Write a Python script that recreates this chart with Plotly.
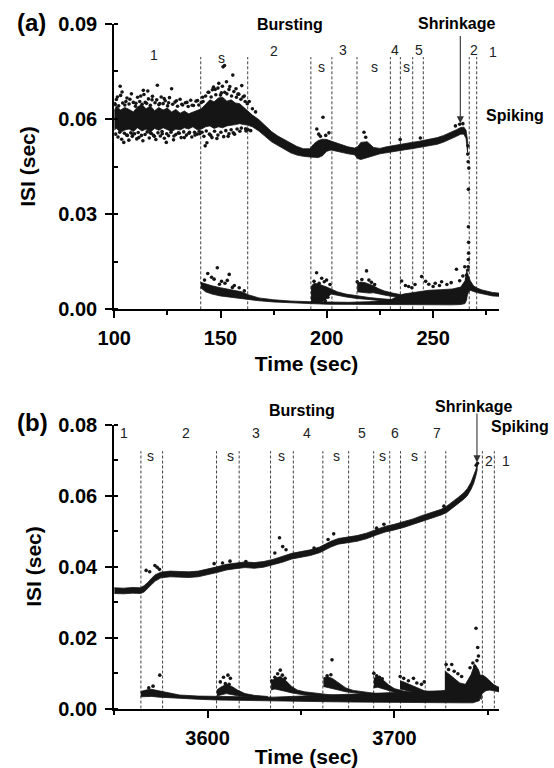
import plotly.graph_objects as go

# ---------------- panel (a): 100 - 281 s ----------------
# long (inter-burst) ISI band: time, lower edge, upper edge
a_up_t = [100, 101, 103, 105, 107, 109, 111, 113, 115, 117, 119, 121, 123, 125, 127, 129, 131, 133, 135, 137, 139,
          141, 143, 145, 147, 149, 151, 153, 155, 157, 159, 161, 163,
          165, 168, 171, 174, 177, 180, 183, 186, 189, 192,
          194, 196, 198, 200, 202, 204,
          207, 210, 213,
          214.5, 216, 219, 222, 225, 228, 231, 234, 237, 240, 243, 246, 249, 252, 255, 258, 261, 263, 264.5, 265.5, 266.2]
a_up_hi = [0.0625, 0.0640, 0.0628, 0.0636, 0.0630, 0.0622, 0.0638, 0.0645, 0.0632, 0.0641, 0.0626, 0.0636, 0.0628, 0.0634, 0.0622, 0.0630, 0.0618, 0.0625, 0.0616, 0.0621, 0.0627,
           0.0632, 0.0646, 0.0660, 0.0654, 0.0666, 0.0668, 0.0656, 0.0660, 0.0650, 0.0648, 0.0636, 0.0624,
           0.0612, 0.0598, 0.0578, 0.0560, 0.0546, 0.0535, 0.0523, 0.0513, 0.0506, 0.0506,
           0.0522, 0.0532, 0.0536, 0.0535, 0.0530, 0.0525,
           0.0519, 0.0512, 0.0508,
           0.0512, 0.0526, 0.0528, 0.0510, 0.0507, 0.0512, 0.0516, 0.0520, 0.0523, 0.0526, 0.0529, 0.0533, 0.0536, 0.0541, 0.0548, 0.0556, 0.0566, 0.0573, 0.0574, 0.0564, 0.0532]
a_up_lo = [0.0565, 0.0570, 0.0558, 0.0565, 0.0568, 0.0560, 0.0572, 0.0562, 0.0568, 0.0558, 0.0570, 0.0564, 0.0572, 0.0566, 0.0560, 0.0568, 0.0565, 0.0572, 0.0568, 0.0575, 0.0566,
           0.0568, 0.0575, 0.0578, 0.0570, 0.0575, 0.0572, 0.0578, 0.0580, 0.0582, 0.0585, 0.0582, 0.0580,
           0.0575, 0.0562, 0.0545, 0.0528, 0.0515, 0.0505, 0.0493, 0.0486, 0.0482, 0.0480,
           0.0478, 0.0478, 0.0484, 0.0498, 0.0502, 0.0497,
           0.0494, 0.0490, 0.0487,
           0.0475, 0.0472, 0.0478, 0.0484, 0.0490, 0.0494, 0.0497, 0.0500, 0.0503, 0.0506, 0.0509, 0.0512, 0.0516, 0.0520, 0.0527, 0.0535, 0.0545, 0.0552, 0.0552, 0.0538, 0.0495]

# short (intra-burst) ISI floor
a_low_t = [140.7, 143, 146, 150, 155, 160, 163, 168, 175, 183, 192, 200, 210, 220, 230, 236, 242, 248, 254, 259, 263, 265, 265.8]
a_low_lo = [0.0068, 0.0055, 0.0048, 0.0042, 0.0036, 0.0033, 0.0031, 0.0027, 0.0023, 0.0020, 0.0018, 0.0016, 0.0015, 0.0015, 0.0014, 0.0014, 0.0014, 0.0014, 0.0014, 0.0014, 0.0015, 0.0018, 0.0030]
a_low_hi = [0.0085, 0.0080, 0.0074, 0.0068, 0.0062, 0.0055, 0.0046, 0.0036, 0.0030, 0.0026, 0.0024, 0.0023, 0.0022, 0.0024, 0.0030, 0.0048, 0.0055, 0.0060, 0.0062, 0.0064, 0.0070, 0.0090, 0.0115]

# burst after the second "s" segment
a_b2_t = [192.6, 194, 196, 198, 200, 202, 205, 209, 214, 220, 226, 232]
a_b2_lo = [0.0020, 0.0020, 0.0021, 0.0024, 0.0035, 0.0048, 0.0044, 0.0039, 0.0034, 0.0030, 0.0027, 0.0024]
a_b2_hi = [0.0072, 0.0082, 0.0080, 0.0076, 0.0070, 0.0064, 0.0055, 0.0048, 0.0042, 0.0037, 0.0033, 0.0030]

# burst after the third "s" segment
a_b3_t = [214.3, 216, 218, 220, 222, 224, 227, 231, 236, 241, 246]
a_b3_lo = [0.0055, 0.0053, 0.0052, 0.0051, 0.0052, 0.0050, 0.0045, 0.0040, 0.0035, 0.0031, 0.0028]
a_b3_hi = [0.0082, 0.0086, 0.0084, 0.0080, 0.0074, 0.0066, 0.0058, 0.0051, 0.0044, 0.0038, 0.0034]

# tonic spiking after shrinkage
a_tail_t = [265.5, 266.5, 267.5, 269, 271, 273, 275.5, 278, 281]
a_tail_lo = [0.0030, 0.0052, 0.0060, 0.0056, 0.0052, 0.0049, 0.0045, 0.0042, 0.0041]
a_tail_hi = [0.0125, 0.0110, 0.0090, 0.0074, 0.0066, 0.0061, 0.0056, 0.0053, 0.0051]

# ISIs scattered just above / below the noisy band at the start
a_cloud_hi_t = [100.2, 101.0, 102.1, 103.0, 104.0, 105.0, 106.0, 107.0, 108.1, 109.0, 110.0, 111.0, 112.0, 113.1,
                114.0, 115.2, 116.1, 117.0, 118.0, 119.2, 120.0, 121.0, 122.1, 123.0, 124.0, 125.1, 126.0, 127.5,
                128.6, 129.8, 131.0, 132.2, 133.5, 134.8, 136.0, 137.3, 138.5, 139.8, 141.0,
                141.8, 143.0, 144.2, 145.6, 146.2, 147.8, 148.8, 150.0, 150.9, 152.0, 153.0, 154.0, 155.2, 156.3,
                157.5, 158.6, 159.6, 160.6, 161.6, 162.6]
a_cloud_hi_v = [0.0648, 0.0661, 0.0641, 0.0674, 0.0650, 0.0644, 0.0666, 0.0647, 0.0679, 0.0652, 0.0640, 0.0668, 0.0655, 0.0646,
                0.0677, 0.0649, 0.0663, 0.0643, 0.0671, 0.0651, 0.0660, 0.0645, 0.0669, 0.0648, 0.0657, 0.0641, 0.0667, 0.0646,
                0.0653, 0.0640, 0.0662, 0.0644, 0.0651, 0.0639, 0.0659, 0.0642, 0.0656, 0.0644, 0.0652,
                0.0655, 0.0672, 0.0684, 0.0669, 0.0692, 0.0676, 0.0697, 0.0675, 0.0703, 0.0684, 0.0679, 0.0693, 0.0672, 0.0686,
                0.0668, 0.0678, 0.0662, 0.0669, 0.0655, 0.0648]
a_cloud_lo_t = [100.7, 101.8, 102.6, 103.5, 104.8, 105.8, 106.9, 107.8, 108.5, 109.6, 110.6, 111.3, 112.8, 113.5,
                114.5, 115.5, 116.5, 117.5, 118.5, 119.6, 120.6, 121.7, 122.5, 123.6, 124.7, 125.6, 126.7, 127.9,
                129.0, 130.2, 131.5, 132.7, 134.0, 135.2, 136.5, 137.8, 139.0, 140.0,
                141.3, 142.2, 143.3, 144.8, 146.0, 147.2, 148.8, 150.2, 151.5, 152.5, 154.0, 155.0, 156.0, 157.8,
                159.8, 161.8, 163.0, 164.2]
a_cloud_lo_v = [0.0552, 0.0543, 0.0558, 0.0536, 0.0555, 0.0549, 0.0533, 0.0556, 0.0545, 0.0553, 0.0537, 0.0557, 0.0548, 0.0531,
                0.0551, 0.0559, 0.0540, 0.0554, 0.0548, 0.0535, 0.0556, 0.0546, 0.0560, 0.0539, 0.0553, 0.0547, 0.0558, 0.0534,
                0.0551, 0.0556, 0.0541, 0.0559, 0.0549, 0.0555, 0.0543, 0.0558, 0.0552, 0.0561,
                0.0558, 0.0545, 0.0562, 0.0552, 0.0541, 0.0561, 0.0549, 0.0558, 0.0544, 0.0563, 0.0553, 0.0566, 0.0556, 0.0568,
                0.0571, 0.0569, 0.0566, 0.0563]

# isolated ISIs
a_dot_t = [100.5, 101.5, 102.8, 103.7, 104.5, 105.5, 106.2, 107.4, 108.9, 110.2, 111.6, 112.5, 113.7, 114.6, 115.8,
           116.9, 117.8, 118.9, 120.3, 121.4, 122.6, 123.5, 124.5, 125.6, 127.0, 128.1, 129.3, 130.6, 131.8, 133.0,
           134.2, 135.4, 136.7, 138.0, 139.2, 140.3, 141.6, 142.8, 143.6, 144.5, 145.4, 146.7, 147.5, 148.3, 149.2,
           150.4, 151.2, 151.9, 152.8, 153.6, 154.4, 155.8, 156.6, 157.3, 158.2, 159.1, 160.0, 161.2, 162.0, 163.5,
           165.0, 166.5,
           195.3, 196.2, 197.0, 198.2, 199.5, 201.0, 217.5, 218.3, 234.5, 244.0, 260.5, 262.5, 264.0,
           266.3, 266.5, 266.6, 266.6, 266.7, 266.7, 266.6, 266.5, 266.4, 266.8, 266.4,
           144.0, 148.5, 154.1, 145.8, 147.0, 152.1, 150.5, 142.5, 156.5, 158.8, 161.2, 149.5, 153.2, 155.6,
           195.2, 197.6, 199.9, 194.0, 196.4, 198.8, 201.5, 193.5, 195.8, 197.5, 199.3, 200.5,
           218.7, 214.3, 216.5, 219.8, 221.0, 222.5, 215.5,
           235.2, 244.6, 246.5, 248.0, 251.0, 254.0, 256.5, 258.5, 261.0, 262.5, 264.9, 264.0, 238.5, 241.5, 250.0,
           253.0, 240.0, 237.0, 265.7, 265.9, 266.2]
a_dot_v = [0.0645, 0.0669, 0.0703, 0.0685, 0.0526, 0.0655, 0.0548, 0.0662, 0.0552, 0.0649, 0.0541, 0.0672, 0.0690, 0.0652, 0.0688,
           0.0556, 0.0660, 0.0545, 0.0706, 0.0648, 0.0553, 0.0664, 0.0526, 0.0651, 0.0695, 0.0546, 0.0657, 0.0555, 0.0646, 0.0541,
           0.0652, 0.0558, 0.0643, 0.0549, 0.0658, 0.0553, 0.0668, 0.0515, 0.0525, 0.0684, 0.0548, 0.0700, 0.0693, 0.0538, 0.0712,
           0.0682, 0.0764, 0.0768, 0.0717, 0.0545, 0.0702, 0.0738, 0.0552, 0.0695, 0.0678, 0.0561, 0.0705, 0.0672, 0.0562, 0.0655,
           0.0632, 0.0622,
           0.0568, 0.0552, 0.0545, 0.0605, 0.0548, 0.0556, 0.0558, 0.0542, 0.0535, 0.0540, 0.0578, 0.0583, 0.0585,
           0.0489, 0.0465, 0.0378, 0.0260, 0.0211, 0.0177, 0.0157, 0.0134, 0.0124, 0.0445, 0.0515,
           0.0113, 0.0131, 0.0110, 0.0101, 0.0095, 0.0082, 0.0088, 0.0092, 0.0075, 0.0068, 0.0058, 0.0079, 0.0091, 0.0069,
           0.0115, 0.0098, 0.0092, 0.0088, 0.0082, 0.0087, 0.0078, 0.0035, 0.0028, 0.0032, 0.0027, 0.0038,
           0.0121, 0.0087, 0.0094, 0.0092, 0.0085, 0.0078, 0.0079,
           0.0089, 0.0103, 0.0088, 0.0079, 0.0082, 0.0087, 0.0078, 0.0084, 0.0126, 0.0090, 0.0134, 0.0105, 0.0072, 0.0078, 0.0072,
           0.0075, 0.0068, 0.0075, 0.0108, 0.0098, 0.0090]

# segment boundaries and labels
a_marks = [140.7, 162.8, 192.5, 202.4, 214.2, 229.9, 234.6, 240.4, 245.4, 267.0, 270.5]
a_seg_text = ["1", "s", "2", "s", "3", "s", "4", "s", "5", "2", "1"]
a_seg_t = [118.7, 150.7, 175.3, 197.5, 207.5, 222.3, 232.0, 237.5, 243.3, 269.2, 278.4]
a_seg_v = [0.0801, 0.0791, 0.0815, 0.0764, 0.0817, 0.0764, 0.0817, 0.0764, 0.0817, 0.0817, 0.0812]

# ---------------- panel (b): 3550 - 3756 s ----------------
b_up_t = [3550, 3555, 3560, 3564, 3566, 3568, 3570, 3572, 3575, 3580, 3585, 3590, 3595, 3600, 3605, 3610, 3615, 3620,
          3625, 3630, 3635, 3640, 3645, 3650, 3655, 3660, 3663, 3666, 3670, 3675, 3680, 3685, 3690, 3695, 3700, 3705,
          3710, 3715, 3720, 3725, 3728, 3731, 3734, 3737, 3739, 3741, 3742.5, 3743.5, 3744.3]
b_up_hi = [0.0340, 0.0339, 0.0341, 0.0340, 0.0346, 0.0355, 0.0367, 0.0377, 0.0384, 0.0387, 0.0386, 0.0385, 0.0387, 0.0392, 0.0399, 0.0406, 0.0410, 0.0413,
           0.0411, 0.0414, 0.0420, 0.0428, 0.0437, 0.0442, 0.0447, 0.0455, 0.0463, 0.0471, 0.0479, 0.0482, 0.0487, 0.0494, 0.0504, 0.0513, 0.0519, 0.0526,
           0.0534, 0.0544, 0.0552, 0.0561, 0.0570, 0.0581, 0.0594, 0.0607, 0.0619, 0.0637, 0.0655, 0.0671, 0.0685]
b_up_lo = [0.0324, 0.0323, 0.0325, 0.0324, 0.0328, 0.0337, 0.0349, 0.0359, 0.0368, 0.0371, 0.0370, 0.0369, 0.0371, 0.0376, 0.0383, 0.0390, 0.0394, 0.0397,
           0.0395, 0.0398, 0.0404, 0.0412, 0.0421, 0.0426, 0.0431, 0.0439, 0.0447, 0.0455, 0.0463, 0.0466, 0.0471, 0.0478, 0.0488, 0.0497, 0.0503, 0.0510,
           0.0518, 0.0528, 0.0536, 0.0545, 0.0552, 0.0563, 0.0576, 0.0589, 0.0599, 0.0617, 0.0635, 0.0653, 0.0671]

b_low_t = [3564.2, 3567, 3570, 3574, 3578, 3585, 3595, 3605, 3620, 3635, 3650, 3665, 3680, 3695, 3710, 3725, 3735, 3742, 3745.5]
b_low_lo = [0.0033, 0.0034, 0.0034, 0.0032, 0.0030, 0.0028, 0.0026, 0.0024, 0.0022, 0.0021, 0.0020, 0.0019, 0.0018, 0.0018, 0.0017, 0.0016, 0.0016, 0.0016, 0.0022]
b_low_hi = [0.0048, 0.0052, 0.0054, 0.0050, 0.0044, 0.0038, 0.0035, 0.0034, 0.0032, 0.0032, 0.0035, 0.0038, 0.0042, 0.0045, 0.0048, 0.0050, 0.0055, 0.0058, 0.0060]

b_b3_t = [3605, 3607, 3610, 3613, 3616, 3620, 3625, 3632]
b_b3_lo = [0.0035, 0.0038, 0.0042, 0.0040, 0.0036, 0.0033, 0.0031, 0.0030]
b_b3_hi = [0.0052, 0.0060, 0.0068, 0.0062, 0.0052, 0.0042, 0.0037, 0.0034]

b_b4_t = [3634, 3636, 3639, 3642, 3645, 3648, 3652, 3658, 3665, 3675, 3685]
b_b4_lo = [0.0052, 0.0055, 0.0052, 0.0048, 0.0044, 0.0041, 0.0038, 0.0035, 0.0032, 0.0030, 0.0028]
b_b4_hi = [0.0075, 0.0085, 0.0090, 0.0078, 0.0062, 0.0052, 0.0047, 0.0043, 0.0039, 0.0035, 0.0032]

b_b5_t = [3662, 3664, 3667, 3670, 3674, 3678, 3684, 3692, 3700]
b_b5_lo = [0.0062, 0.0060, 0.0056, 0.0052, 0.0047, 0.0043, 0.0040, 0.0036, 0.0033]
b_b5_hi = [0.0086, 0.0090, 0.0084, 0.0072, 0.0058, 0.0051, 0.0046, 0.0041, 0.0037]

b_b6_t = [3689, 3691, 3694, 3697, 3700, 3705, 3712, 3720]
b_b6_lo = [0.0058, 0.0060, 0.0056, 0.0050, 0.0046, 0.0042, 0.0038, 0.0035]
b_b6_hi = [0.0085, 0.0090, 0.0080, 0.0066, 0.0056, 0.0049, 0.0043, 0.0039]

b_b7_t = [3703, 3705, 3708, 3712, 3716, 3722, 3728]
b_b7_lo = [0.0055, 0.0052, 0.0048, 0.0044, 0.0041, 0.0038, 0.0036]
b_b7_hi = [0.0078, 0.0075, 0.0068, 0.0058, 0.0050, 0.0045, 0.0042]

b_b8_t = [3727, 3729, 3732, 3735, 3738, 3741, 3743, 3745, 3746.5]
b_b8_lo = [0.0045, 0.0040, 0.0038, 0.0036, 0.0035, 0.0038, 0.0045, 0.0040, 0.0025]
b_b8_hi = [0.0105, 0.0098, 0.0085, 0.0072, 0.0068, 0.0095, 0.0125, 0.0110, 0.0085]

b_tail_t = [3745.5, 3747, 3749, 3751, 3753, 3755, 3756]
b_tail_lo = [0.0025, 0.0042, 0.0050, 0.0052, 0.0050, 0.0048, 0.0047]
b_tail_hi = [0.0090, 0.0095, 0.0088, 0.0078, 0.0068, 0.0062, 0.0060]

b_dot_t = [3567.1, 3569.0, 3571.8, 3573.0, 3574.2, 3603.5, 3612.0, 3608.0, 3620.5, 3636.0, 3638.5, 3640.2, 3642.0,
           3657.0, 3664.5, 3667.5, 3690.5, 3694.4, 3726.5, 3744.5, 3743.8,
           3574.4, 3570.8, 3568.5, 3610.9, 3608.5, 3612.2, 3606.8, 3609.5, 3611.5, 3638.9, 3637.5, 3640.0, 3641.5,
           3636.0, 3634.3, 3666.6, 3664.0, 3666.0, 3689.0, 3690.5, 3692.0, 3693.5, 3703.1, 3705.0, 3707.5, 3710.2,
           3712.0, 3714.5, 3716.0, 3727.7, 3730.7, 3729.0, 3732.0, 3734.0, 3736.0, 3740.5, 3742.0, 3743.7, 3744.6,
           3745.0, 3744.2, 3743.0]
b_dot_v = [0.0389, 0.0385, 0.0403, 0.0398, 0.0392, 0.0408, 0.0415, 0.0410, 0.0414, 0.0438, 0.0481, 0.0456, 0.0447,
           0.0452, 0.0476, 0.0492, 0.0508, 0.0519, 0.0570, 0.0691, 0.0685,
           0.0094, 0.0063, 0.0058, 0.0094, 0.0088, 0.0085, 0.0075, 0.0070, 0.0068, 0.0108, 0.0098, 0.0094, 0.0085,
           0.0088, 0.0078, 0.0137, 0.0092, 0.0095, 0.0099, 0.0092, 0.0088, 0.0084, 0.0090, 0.0085, 0.0078, 0.0085,
           0.0072, 0.0068, 0.0075, 0.0124, 0.0124, 0.0110, 0.0105, 0.0098, 0.0090, 0.0115, 0.0128, 0.0226, 0.0172,
           0.0148, 0.0135, 0.0118]

b_marks = [3564.3, 3575.9, 3604.8, 3616.9, 3633.7, 3645.9, 3661.7, 3675.5, 3688.9, 3697.5, 3703.3, 3716.5, 3727.5, 3747.1, 3753.5]
b_seg_text = ["1", "2", "3", "4", "5", "6", "7", "s", "s", "s", "s", "s", "s", "2"]
b_seg_t = [3555.3, 3588.5, 3625.8, 3653.2, 3682.9, 3700.5, 3722.6, 3569.5, 3612.4, 3639.3, 3669.1, 3693.4, 3710.8, 3750.4]
b_seg_v = [0.0776, 0.0776, 0.0776, 0.0776, 0.0776, 0.0776, 0.0776, 0.0711, 0.0711, 0.0711, 0.0711, 0.0711, 0.0711, 0.0697]

# ---------------- drawing ----------------
INK = "#151515"
FAMILY = "Liberation Sans, Arial, sans-serif"
BOLD = dict(family=FAMILY, size=20, color="black", weight="bold")
THIN = dict(family=FAMILY, size=14, color="#222222")

fig = go.Figure()


def add_marks(ts, top, xa, ya):
    for t in ts:
        fig.add_trace(go.Scatter(x=[t, t], y=[0, top], mode="lines",
                                 line=dict(color="#404040", width=1, dash="3px,2px"),
                                 xaxis=xa, yaxis=ya, hoverinfo="skip", showlegend=False))


def add_band(t, lo, hi, xa, ya):
    assert len(t) == len(lo) == len(hi)
    fig.add_trace(go.Scatter(x=list(t) + list(t)[::-1], y=list(hi) + list(lo)[::-1],
                             mode="lines", fill="toself", fillcolor=INK,
                             line=dict(color=INK, width=0.8),
                             xaxis=xa, yaxis=ya, hoverinfo="skip", showlegend=False))


def add_dots(t, v, xa, ya):
    assert len(t) == len(v)
    fig.add_trace(go.Scatter(x=t, y=v, mode="markers",
                             marker=dict(size=3.6, color=INK, line=dict(width=0)),
                             xaxis=xa, yaxis=ya, hoverinfo="skip", showlegend=False))


add_marks(a_marks, 0.0795, "x", "y")
for t, lo, hi in [(a_up_t, a_up_lo, a_up_hi), (a_low_t, a_low_lo, a_low_hi), (a_b2_t, a_b2_lo, a_b2_hi),
                  (a_b3_t, a_b3_lo, a_b3_hi), (a_tail_t, a_tail_lo, a_tail_hi)]:
    add_band(t, lo, hi, "x", "y")
add_dots(a_cloud_hi_t, a_cloud_hi_v, "x", "y")
add_dots(a_cloud_lo_t, a_cloud_lo_v, "x", "y")
add_dots(a_dot_t, a_dot_v, "x", "y")

add_marks(b_marks, 0.0725, "x2", "y2")
for t, lo, hi in [(b_up_t, b_up_lo, b_up_hi), (b_low_t, b_low_lo, b_low_hi), (b_b3_t, b_b3_lo, b_b3_hi),
                  (b_b4_t, b_b4_lo, b_b4_hi), (b_b5_t, b_b5_lo, b_b5_hi), (b_b6_t, b_b6_lo, b_b6_hi),
                  (b_b7_t, b_b7_lo, b_b7_hi), (b_b8_t, b_b8_lo, b_b8_hi), (b_tail_t, b_tail_lo, b_tail_hi)]:
    add_band(t, lo, hi, "x2", "y2")
add_dots(b_dot_t, b_dot_v, "x2", "y2")

W, H = 554, 768


def px(x):
    return x / W


def py(y):
    return 1 - y / H


CENTER = dict(xanchor="center", yanchor="middle", showarrow=False)
annotations = []
for txt, t, v in zip(a_seg_text, a_seg_t, a_seg_v):
    annotations.append(dict(text=txt, x=t, y=v, xref="x", yref="y", font=THIN, **CENTER))
for txt, t, v in zip(b_seg_text, b_seg_t, b_seg_v):
    annotations.append(dict(text=txt, x=t, y=v, xref="x2", yref="y2", font=THIN, **CENTER))
annotations.append(dict(text="1", x=px(506), y=py(461), xref="paper", yref="paper", font=THIN, **CENTER))

HEAD = dict(family=FAMILY, size=16, color="black", weight="bold")
for txt, x, y in [("Bursting", 290, 24.5), ("Shrinkage", 456, 23.5), ("Spiking", 514.7, 116),
                  ("Bursting", 302, 410.5), ("Shrinkage", 473, 406.5), ("Spiking", 519.5, 426)]:
    annotations.append(dict(text=txt, x=px(x), y=py(y), xref="paper", yref="paper", font=HEAD, **CENTER))
PANEL = dict(family=FAMILY, size=24, color="black", weight="bold")
annotations.append(dict(text="(a)", x=px(31), y=py(23), xref="paper", yref="paper", font=PANEL, **CENTER))
annotations.append(dict(text="(b)", x=px(32.4), y=py(422.3), xref="paper", yref="paper", font=PANEL, **CENTER))

# shrinkage arrows
annotations.append(dict(text="", x=262.8, y=0.0586, ax=262.8, ay=0.0866, xref="x", yref="y", axref="x", ayref="y",
                        showarrow=True, arrowhead=2, arrowsize=1.3, arrowwidth=1.1, arrowcolor="#333333"))
annotations.append(dict(text="", x=3744.2, y=0.0693, ax=3744.2, ay=0.0835, xref="x2", yref="y2", axref="x2", ayref="y2",
                        showarrow=True, arrowhead=2, arrowsize=1.3, arrowwidth=1.1, arrowcolor="#333333"))

XDOM = [114.2 / W, 499 / W]
axis_common = dict(showline=True, linewidth=2, linecolor="black", showgrid=False, zeroline=False, automargin=False,
                   ticks="outside", ticklen=7, tickwidth=2, tickcolor="black", tickfont=BOLD)
TITLE = dict(family=FAMILY, size=21, color="black", weight="bold")

fig.update_layout(
    template="none",
    width=W, height=H, margin=dict(l=0, r=0, t=0, b=0, autoexpand=False),
    paper_bgcolor="white", plot_bgcolor="white", showlegend=False,
    xaxis=dict(domain=XDOM, anchor="y", range=[100, 281], tick0=100, dtick=50,
               minor=dict(dtick=25, tick0=100, ticks="outside", ticklen=4, tickwidth=1.5, tickcolor="black"),
               ticklabelstandoff=3,
               title=dict(text="Time (sec)", font=TITLE, standoff=8), **axis_common),
    yaxis=dict(domain=[1 - 309.3 / H, 1 - 23.7 / H], anchor="x", range=[0, 0.09], tick0=0, dtick=0.03,
               tickformat=".2f",
               minor=dict(dtick=0.015, tick0=0, ticks="inside", ticklen=4, tickwidth=1.5, tickcolor="black"),
               ticklabelstandoff=4,
               title=dict(text="ISI (sec)", font=TITLE, standoff=17), **axis_common),
    xaxis2=dict(domain=XDOM, anchor="y2", range=[3550, 3756], tick0=3600, dtick=100,
                minor=dict(dtick=50, tick0=3550, ticks="outside", ticklen=4, tickwidth=1.5, tickcolor="black"),
                ticklabelstandoff=3,
                title=dict(text="Time (sec)", font=TITLE, standoff=8), **axis_common),
    yaxis2=dict(domain=[1 - 708.5 / H, 1 - 424.5 / H], anchor="x2", range=[0, 0.08], tick0=0, dtick=0.02,
                tickformat=".2f",
                minor=dict(dtick=0.01, tick0=0, ticks="inside", ticklen=4, tickwidth=1.5, tickcolor="black"),
                ticklabelstandoff=4,
                title=dict(text="ISI (sec)", font=TITLE, standoff=11), **axis_common),
    annotations=annotations,
)

fig.write_html("out.html")
